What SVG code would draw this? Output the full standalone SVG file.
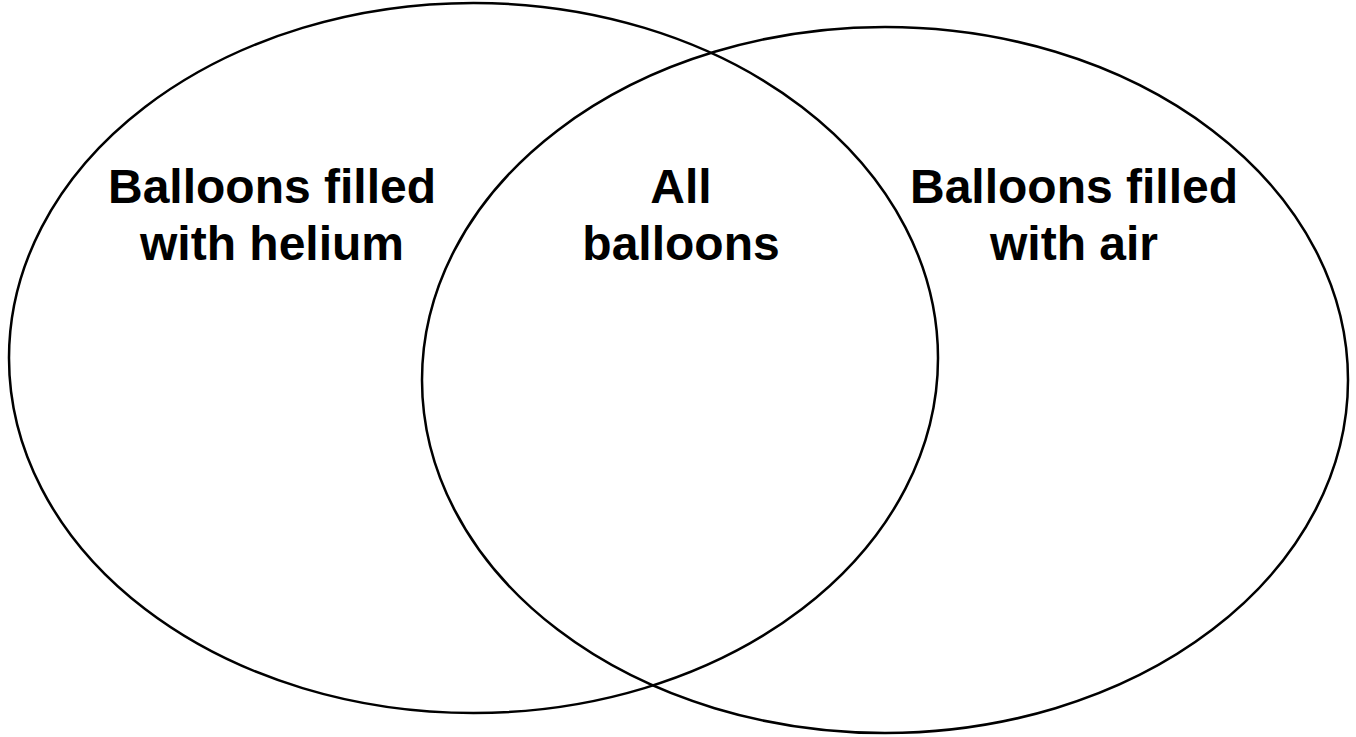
<svg xmlns="http://www.w3.org/2000/svg" width="1356" height="737" viewBox="0 0 1356 737">
<style>
.set{fill:none;stroke:#000;stroke-width:2.5}
.lbl{font-family:"Liberation Sans",Arial,sans-serif;font-weight:bold;font-size:48px;fill:#000;text-anchor:middle}
</style>
<rect width="1356" height="737" fill="#fff"/>
<g id="helium">
<ellipse class="set" cx="473.5" cy="358" rx="464.5" ry="355"/>
<text class="lbl" x="272" y="203">Balloons filled</text>
<text class="lbl" x="272" y="260">with helium</text>
</g>
<g id="air">
<ellipse class="set" cx="885" cy="380" rx="463" ry="353"/>
<text class="lbl" x="1074" y="203">Balloons filled</text>
<text class="lbl" x="1074" y="260">with air</text>
</g>
<g id="all">
<text class="lbl" x="681" y="203">All</text>
<text class="lbl" x="681" y="260">balloons</text>
</g>
<g id="connectors"/>
</svg>
